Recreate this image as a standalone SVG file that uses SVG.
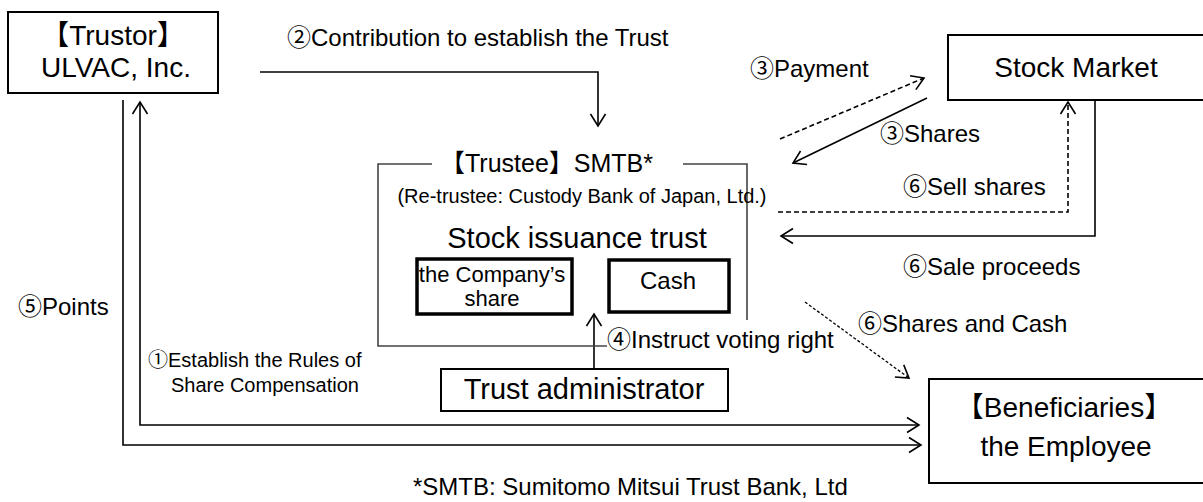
<svg xmlns="http://www.w3.org/2000/svg" width="1203" height="502" viewBox="0 0 1203 502">
<style>
text{font-family:"Liberation Sans","Noto Sans CJK JP",Arial,sans-serif;fill:#000}
.node{font-size:28px;text-anchor:middle}
.lbl{font-size:24px}
.sm{font-size:20px}
.box{fill:#fff;stroke:#000;stroke-width:2}
.thick{fill:#fff;stroke:#000;stroke-width:3.5}
.ln{fill:none;stroke:#000;stroke-width:1.6}
.dash{stroke-dasharray:5,3}
.dot{stroke-dasharray:3,2;stroke-width:1.3}
.brk{fill:none;stroke:#444;stroke-width:1.6}
</style>
<defs>
<marker id="ah" viewBox="-13 -9 15 18" refX="0" refY="0" markerWidth="15" markerHeight="18" markerUnits="userSpaceOnUse" orient="auto-start-reverse">
<path d="M-12,-7.5 L0,0 L-12,7.5" fill="none" stroke="#000" stroke-width="1.6"/>
</marker>
</defs>
<rect width="1203" height="502" fill="#fff"/>
<g id="connectors">
<path class="ln" d="M260,72 L598,72 L598,126" marker-end="url(#ah)"/>
<path class="ln" d="M919,425 L140,425 L140,102" marker-start="url(#ah)" marker-end="url(#ah)"/>
<path class="ln" d="M123,100 L123,445 L921,445" marker-end="url(#ah)"/>
<path class="ln dash" d="M780,139 L924,78" marker-end="url(#ah)"/>
<path class="ln" d="M927,98 L793,163" marker-end="url(#ah)"/>
<path class="ln dash" d="M778,212 L1068,212 L1068,102" marker-end="url(#ah)"/>
<path class="ln" d="M1095,100 L1095,236 L781,236" marker-end="url(#ah)"/>
<path class="ln dot" d="M805,302 L909,378" marker-end="url(#ah)"/>
<path class="ln" d="M594,369 L594,314" marker-end="url(#ah)"/>
<text class="lbl" x="287" y="46">②Contribution to establish the Trust</text>
<text class="lbl" x="750" y="77">③Payment</text>
<text class="lbl" x="880" y="142">③Shares</text>
<text class="lbl" x="903" y="195">⑥Sell shares</text>
<text class="lbl" x="903" y="275">⑥Sale proceeds</text>
<text class="lbl" x="858" y="332">⑥Shares and Cash</text>
<text class="lbl" x="607" y="348">④Instruct voting right</text>
<text class="lbl" x="18" y="315">⑤Points</text>
<text class="sm" x="148" y="367">①Establish the Rules of</text>
<text class="sm" x="171" y="392">Share Compensation</text>
</g>
<g id="trustor">
<rect class="box" x="8" y="12" width="210" height="81"/>
<text class="node" x="113" y="45">【Trustor】</text>
<text class="node" x="116" y="77">ULVAC, Inc.</text>
</g>
<g id="stock-market">
<rect class="box" x="948" y="35" width="260" height="65"/>
<text class="node" x="1076" y="77">Stock Market</text>
</g>
<g id="trustee">
<path class="brk" d="M432,164 L378,164 L378,346 L607,346 M683,164 L747,164 L747,320"/>
<text x="440" y="172" style="font-size:25px">【Trustee】SMTB*</text>
<text x="582" y="203" style="font-size:20px;text-anchor:middle">(Re-trustee: Custody Bank of Japan, Ltd.)</text>
<text x="577" y="248" style="font-size:29px;text-anchor:middle">Stock issuance trust</text>
</g>
<g id="company-share">
<rect class="thick" x="417" y="259" width="155" height="55"/>
<text x="492" y="282" style="font-size:22px;text-anchor:middle">the Company’s</text>
<text x="492" y="306" style="font-size:22px;text-anchor:middle">share</text>
</g>
<g id="cash">
<rect class="thick" x="609" y="260" width="120" height="52"/>
<text x="668" y="289" style="font-size:24px;text-anchor:middle">Cash</text>
</g>
<g id="trust-administrator">
<rect class="box" x="441" y="369" width="287" height="42"/>
<text class="node" x="584" y="399" style="font-size:29px">Trust administrator</text>
</g>
<g id="beneficiaries">
<rect class="box" x="929" y="379" width="280" height="104"/>
<text class="node" x="1064" y="417">【Beneficiaries】</text>
<text class="node" x="1066" y="456">the Employee</text>
</g>
<text x="413" y="495" style="font-size:24px">*SMTB: Sumitomo Mitsui Trust Bank, Ltd</text>
</svg>
